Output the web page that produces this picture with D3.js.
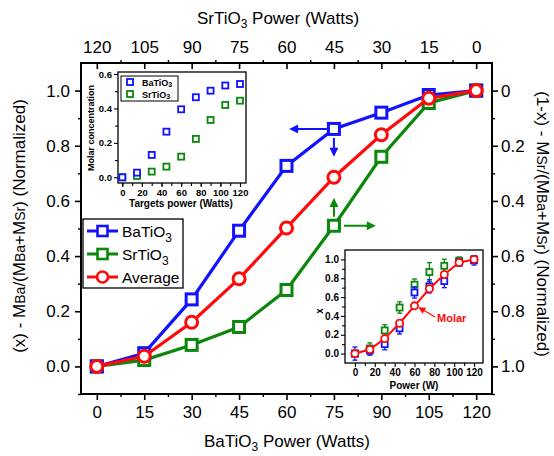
<!DOCTYPE html>
<html>
<head>
<meta charset="utf-8">
<script src="https://cdn.jsdelivr.net/npm/d3@7"></script>
<style>
  html, body { margin: 0; padding: 0; background: #fff; }
  svg { display: block; font-family: "Liberation Sans", Arial, sans-serif; }
</style>
</head>
<body>
<svg id="chart" width="554" height="456"></svg>
<script>
// Sputtering power steps (W)
const power = [0, 15, 30, 45, 60, 75, 90, 105, 120];

// Normalized composition vs. BaTiO3 target power
const baNorm = [0.0, 0.048, 0.243, 0.492, 0.727, 0.861, 0.920, 0.984, 1.0];
const srNorm = [0.0, 0.023, 0.078, 0.143, 0.277, 0.510, 0.760, 0.955, 1.0];
const avgNorm = [0.0, 0.037, 0.160, 0.318, 0.502, 0.686, 0.840, 0.972, 1.0];

// Tick values
const bottomTicks = [0, 15, 30, 45, 60, 75, 90, 105, 120];
const topTicks = [120, 105, 90, 75, 60, 45, 30, 15, 0];
const leftTicks = [0.0, 0.2, 0.4, 0.6, 0.8, 1.0];
const rightTicks = [0, 0.2, 0.4, 0.6, 0.8, 1.0];

// Inset: molar concentration vs. target power
const molarBa = [0.0, 0.027, 0.13, 0.265, 0.395, 0.465, 0.503, 0.533, 0.542];
const molarSr = [0.0, 0.008, 0.033, 0.062, 0.12, 0.223, 0.333, 0.42, 0.445];
const insetAYTicks = [0.0, 0.2, 0.4, 0.6];
const insetXTicks = [0, 20, 40, 60, 80, 100, 120];

// Inset: x from each method with uncertainties, and molar average
const xBa = [0.0, 0.033, 0.10, 0.268, 0.649, 0.714, 0.77, 0.967, 0.99];
const xBaErr = [0.07, 0.05, 0.06, 0.06, 0.06, 0.07, 0.07, 0.04, 0.05];
const xSr = [0.0, 0.054, 0.246, 0.489, 0.732, 0.866, 0.932, 0.986, 1.0];
const xSrErr = [0.03, 0.06, 0.06, 0.06, 0.06, 0.10, 0.07, 0.04, 0.04];
const xMolar = [0.0, 0.043, 0.159, 0.322, 0.507, 0.688, 0.84, 0.967, 1.0];
const insetBYTicks = [0.0, 0.2, 0.4, 0.6, 0.8, 1.0];

const BLUE = "#1212ff", GREEN = "#0b870b", RED = "#ff0a0a";

const svg = d3.select("#chart");
const defs = svg.append("defs");
function marker(id, color, w, h) {
  defs.append("marker").attr("id", id).attr("viewBox", "0 0 10 10")
    .attr("refX", 8).attr("refY", 5).attr("markerWidth", w).attr("markerHeight", h)
    .attr("markerUnits", "userSpaceOnUse").attr("orient", "auto")
    .append("path").attr("d", "M0,0 L10,5 L0,10 Z").attr("fill", color);
}
marker("arB", BLUE, 12, 9);
marker("arG", GREEN, 12, 9);
marker("arR", RED, 9, 7);

// ---------- main panel ----------
const L = 81, R = 492, T = 63, B = 394;
const x = d3.scaleLinear().domain([-5, 125]).range([L, R]);
const y = d3.scaleLinear().domain([-0.1, 1.1]).range([B, T]);
const xTop = d3.scaleLinear().domain([125, -5]).range([L, R]);
const yRight = d3.scaleLinear().domain([1.1, -0.1]).range([B, T]);

function styleAxis(g, fs) {
  g.select(".domain").remove();
  g.selectAll("line").attr("stroke", "#000").attr("stroke-width", 1.6);
  g.selectAll("text").attr("font-size", fs).attr("fill", "#000");
}

// minor ticks
function minor(axisFn, scale, vals, size, transform) {
  svg.append("g").attr("transform", transform)
    .call(axisFn(scale).tickValues(vals).tickSize(size).tickFormat(""))
    .call(g => { g.select(".domain").remove(); g.selectAll("line").attr("stroke", "#000").attr("stroke-width", 1.4); });
}
const minorX = d3.range(0, 121, 7.5).filter(v => v % 15 !== 0);
const minorY = [-0.1, 0.1, 0.3, 0.5, 0.7, 0.9];
minor(d3.axisBottom, x, minorX, 3, `translate(0,${B})`);
minor(d3.axisBottom, xTop, minorX, -3, `translate(0,${T})`);
minor(d3.axisLeft, y, minorY, 3, `translate(${L},0)`);
minor(d3.axisRight, yRight, [0.1, 0.3, 0.5, 0.7, 0.9, 1.1], 3, `translate(${R},0)`);

svg.append("g").attr("transform", `translate(0,${B})`)
  .call(d3.axisBottom(x).tickValues(bottomTicks).tickSize(6).tickPadding(6).tickFormat(d3.format("d")))
  .call(g => styleAxis(g, 17));
svg.append("g").attr("transform", `translate(0,${T})`)
  .call(d3.axisTop(xTop).tickValues(topTicks).tickSize(-6).tickPadding(10).tickFormat(d3.format("d")))
  .call(g => styleAxis(g, 17));
svg.append("g").attr("transform", `translate(${L},0)`)
  .call(d3.axisLeft(y).tickValues(leftTicks).tickSize(6).tickPadding(5).tickFormat(d3.format(".1f")))
  .call(g => styleAxis(g, 17));
svg.append("g").attr("transform", `translate(${R},0)`)
  .call(d3.axisRight(yRight).tickValues(rightTicks).tickSize(6).tickPadding(3).tickFormat(d => d === 0 ? "0" : d3.format(".1f")(d)))
  .call(g => styleAxis(g, 17));

svg.append("rect").attr("x", L).attr("y", T).attr("width", R - L).attr("height", B - T)
  .attr("fill", "none").attr("stroke", "#000").attr("stroke-width", 2);

// axis titles
function sub(sel, parts) {
  parts.forEach(p => {
    const t = sel.append("tspan").text(p.t);
    if (p.fs) t.attr("font-size", p.fs);
    if (p.dy) t.attr("dy", p.dy);
  });
}
const bt = svg.append("text").attr("x", 287).attr("y", 447).attr("text-anchor", "middle").attr("font-size", 17);
sub(bt, [{ t: "BaTiO" }, { t: "3", fs: 12, dy: 4 }, { t: " Power (Watts)", dy: -4 }]);
const tt = svg.append("text").attr("x", 278).attr("y", 24).attr("text-anchor", "middle").attr("font-size", 17);
sub(tt, [{ t: "SrTiO" }, { t: "3", fs: 12, dy: 4 }, { t: " Power (Watts)", dy: -4 }]);

const lt = svg.append("text").attr("transform", "translate(25,226) rotate(-90)")
  .attr("text-anchor", "middle").attr("font-size", 17);
sub(lt, [{ t: "(x) - M" }, { t: "Ba", fs: 14 }, { t: "/(M" }, { t: "Ba", fs: 14 }, { t: "+M" }, { t: "Sr", fs: 14 }, { t: ") (Normalized)" }]);
const rt = svg.append("text").attr("transform", "translate(537,224) rotate(90)")
  .attr("text-anchor", "middle").attr("font-size", 17);
sub(rt, [{ t: "(1-x) - M" }, { t: "Sr", fs: 14 }, { t: "/(M" }, { t: "Ba", fs: 14 }, { t: "+M" }, { t: "Sr", fs: 14 }, { t: ") (Normalized)" }]);

// series
const line = d3.line().x((d, i) => x(power[i])).y(d => y(d));
function series(vals, color, shape) {
  svg.append("path").datum(vals).attr("d", line).attr("fill", "none")
    .attr("stroke", color).attr("stroke-width", 3.2);
  const g = svg.append("g");
  if (shape === "sq") {
    g.selectAll("rect").data(vals).join("rect")
      .attr("x", (d, i) => x(power[i]) - 5.5).attr("y", d => y(d) - 5.5)
      .attr("width", 11).attr("height", 11)
      .attr("fill", "#fff").attr("stroke", color).attr("stroke-width", 3);
  } else {
    g.selectAll("circle").data(vals).join("circle")
      .attr("cx", (d, i) => x(power[i])).attr("cy", d => y(d)).attr("r", 6)
      .attr("fill", "#fff").attr("stroke", color).attr("stroke-width", 3);
  }
}
series(srNorm, GREEN, "sq");
series(baNorm, BLUE, "sq");
series(avgNorm, RED, "ci");

// axis pointers
function arrow(x1, y1, x2, y2, color, id) {
  svg.append("line").attr("x1", x1).attr("y1", y1).attr("x2", x2).attr("y2", y2)
    .attr("stroke", color).attr("stroke-width", 2).attr("marker-end", `url(#${id})`);
}
arrow(x(75) - 7, y(baNorm[5]), x(75) - 43, y(baNorm[5]), BLUE, "arB");
arrow(x(75), y(baNorm[5]) + 9, x(75), y(baNorm[5]) + 26, BLUE, "arB");
arrow(x(75), y(srNorm[5]) - 9, x(75), y(srNorm[5]) - 26, GREEN, "arG");
arrow(x(75) + 10, y(srNorm[5]), x(75) + 40, y(srNorm[5]), GREEN, "arG");

// legend
const lg = svg.append("g");
lg.append("rect").attr("x", 83).attr("y", 219).attr("width", 100).attr("height", 69)
  .attr("fill", "#fff").attr("stroke", "#000").attr("stroke-width", 1.3);
const legItems = [
  { name: "BaTiO", s: "3", color: BLUE, shape: "sq", yy: 231 },
  { name: "SrTiO", s: "3", color: GREEN, shape: "sq", yy: 254 },
  { name: "Average", s: "", color: RED, shape: "ci", yy: 277 }
];
legItems.forEach(d => {
  lg.append("line").attr("x1", 87).attr("x2", 118).attr("y1", d.yy).attr("y2", d.yy)
    .attr("stroke", d.color).attr("stroke-width", 3);
  if (d.shape === "sq") {
    lg.append("rect").attr("x", 97.5).attr("y", d.yy - 5).attr("width", 10).attr("height", 10)
      .attr("fill", "#fff").attr("stroke", d.color).attr("stroke-width", 2.6);
  } else {
    lg.append("circle").attr("cx", 102.5).attr("cy", d.yy).attr("r", 5.5)
      .attr("fill", "#fff").attr("stroke", d.color).attr("stroke-width", 2.6);
  }
  const t = lg.append("text").attr("x", 122).attr("y", d.yy + 6).attr("font-size", 15.5);
  sub(t, [{ t: d.name }].concat(d.s ? [{ t: d.s, fs: 12, dy: 5 }] : []));
});

// ---------- inset A: molar concentration ----------
const aL = 118, aR = 246, aT = 72, aB = 183;
const ax = d3.scaleLinear().domain([0, 120]).range([122.3, 240]);
const ay = d3.scaleLinear().domain([0, 0.6]).range([177.3, 74]);
const ia = svg.append("g");
ia.append("rect").attr("x", aL).attr("y", aT).attr("width", aR - aL).attr("height", aB - aT)
  .attr("fill", "#fff").attr("stroke", "#000").attr("stroke-width", 1.3);
ia.append("g").attr("transform", `translate(0,${aB})`)
  .call(d3.axisBottom(ax).tickValues(d3.range(0, 121, 10)).tickSize(3).tickFormat(""))
  .call(g => styleAxis(g, 9));
ia.append("g").attr("transform", `translate(0,${aB})`)
  .call(d3.axisBottom(ax).tickValues(insetXTicks).tickSize(4).tickPadding(2).tickFormat(d3.format("d")))
  .call(g => { styleAxis(g, 9.5); g.selectAll("text").attr("font-weight", "bold"); });
ia.append("g").attr("transform", `translate(${aL},0)`)
  .call(d3.axisLeft(ay).tickValues([0.1, 0.3, 0.5]).tickSize(3).tickFormat(""))
  .call(g => styleAxis(g, 9));
ia.append("g").attr("transform", `translate(${aL},0)`)
  .call(d3.axisLeft(ay).tickValues(insetAYTicks).tickSize(4).tickPadding(2).tickFormat(d3.format(".1f")))
  .call(g => { styleAxis(g, 9.5); g.selectAll("text").attr("font-weight", "bold"); });
ia.selectAll("g line").attr("stroke-width", 1.1);
ia.append("text").attr("x", 181).attr("y", 207).attr("text-anchor", "middle")
  .attr("font-size", 10).attr("font-weight", "bold").text("Targets power (Watts)");
ia.append("text").attr("transform", "translate(94,128) rotate(-90)").attr("text-anchor", "middle")
  .attr("font-size", 9).attr("font-weight", "bold").text("Molar concentration");
function openSq(g, xs, ys, vals, color, s, sw) {
  g.append("g").selectAll("rect").data(vals).join("rect")
    .attr("x", (d, i) => xs(power[i]) - s / 2).attr("y", d => ys(d) - s / 2)
    .attr("width", s).attr("height", s)
    .attr("fill", "#fff").attr("stroke", color).attr("stroke-width", sw);
}
openSq(ia, ax, ay, molarSr, GREEN, 6, 1.8);
openSq(ia, ax, ay, molarBa, BLUE, 6, 1.8);
ia.append("rect").attr("x", 121).attr("y", 76).attr("width", 57).attr("height", 25)
  .attr("fill", "#fff").attr("stroke", "#000").attr("stroke-width", 1);
[{ n: "BaTiO", c: BLUE, yy: 82 }, { n: "SrTiO", c: GREEN, yy: 94 }].forEach(d => {
  ia.append("rect").attr("x", 127).attr("y", d.yy - 3).attr("width", 6).attr("height", 6)
    .attr("fill", "#fff").attr("stroke", d.c).attr("stroke-width", 1.8);
  const t = ia.append("text").attr("x", 142).attr("y", d.yy + 3.5).attr("font-size", 9).attr("font-weight", "bold");
  sub(t, [{ t: d.n }, { t: "3", fs: 7, dy: 1 }]);
});

// ---------- inset B: x with error bars ----------
const bL = 345, bR = 483, bT = 250, bB = 363;
const bx = d3.scaleLinear().domain([-10, 129]).range([bL, bR]);
const by = d3.scaleLinear().domain([-0.1, 1.1]).range([bB, bT]);
const ib = svg.append("g");
ib.append("rect").attr("x", bL).attr("y", bT).attr("width", bR - bL).attr("height", bB - bT)
  .attr("fill", "#fff").attr("stroke", "#000").attr("stroke-width", 1.3);
ib.append("g").attr("transform", `translate(0,${bB})`)
  .call(d3.axisBottom(bx).tickValues(d3.range(10, 121, 20)).tickSize(3).tickFormat(""))
  .call(g => styleAxis(g, 9));
ib.append("g").attr("transform", `translate(0,${bB})`)
  .call(d3.axisBottom(bx).tickValues(insetXTicks).tickSize(4).tickPadding(2).tickFormat(d3.format("d")))
  .call(g => { styleAxis(g, 10); g.selectAll("text").attr("font-weight", "bold"); });
ib.append("g").attr("transform", `translate(${bL},0)`)
  .call(d3.axisLeft(by).tickValues([0.1, 0.3, 0.5, 0.7, 0.9]).tickSize(3).tickFormat(""))
  .call(g => styleAxis(g, 9));
ib.append("g").attr("transform", `translate(${bL},0)`)
  .call(d3.axisLeft(by).tickValues(insetBYTicks).tickSize(4).tickPadding(2).tickFormat(d3.format(".1f")))
  .call(g => { styleAxis(g, 10); g.selectAll("text").attr("font-weight", "bold"); });
ib.selectAll("g line").attr("stroke-width", 1.1);
ib.append("text").attr("x", 414).attr("y", 389).attr("text-anchor", "middle")
  .attr("font-size", 10).attr("font-weight", "bold").text("Power (W)");
ib.append("text").attr("transform", "translate(323,311) rotate(-90)").attr("text-anchor", "middle")
  .attr("font-size", 10).attr("font-weight", "bold").text("x");
function errSeries(vals, errs, color) {
  const g = ib.append("g");
  vals.forEach((v, i) => {
    const cx = bx(power[i]);
    g.append("line").attr("x1", cx).attr("x2", cx).attr("y1", by(v - errs[i])).attr("y2", by(v + errs[i]))
      .attr("stroke", color).attr("stroke-width", 1.3);
    [v - errs[i], v + errs[i]].forEach(e => g.append("line").attr("x1", cx - 2.5).attr("x2", cx + 2.5)
      .attr("y1", by(e)).attr("y2", by(e)).attr("stroke", color).attr("stroke-width", 1.3));
  });
  openSq(g, bx, by, vals, color, 6, 1.8);
}
errSeries(xSr, xSrErr, GREEN);
errSeries(xBa, xBaErr, BLUE);
ib.append("path").datum(xMolar).attr("fill", "none").attr("stroke", RED).attr("stroke-width", 2)
  .attr("d", d3.line().x((d, i) => bx(power[i])).y(d => by(d)));
ib.append("g").selectAll("circle").data(xMolar).join("circle")
  .attr("cx", (d, i) => bx(power[i])).attr("cy", d => by(d)).attr("r", 3.6)
  .attr("fill", "#fff").attr("stroke", RED).attr("stroke-width", 1.8);
ib.append("line").attr("x1", 435).attr("y1", 317).attr("x2", bx(60) + 5).attr("y2", by(xMolar[4]) + 2)
  .attr("stroke", RED).attr("stroke-width", 1.2).attr("marker-end", "url(#arR)");
ib.append("text").attr("x", 437).attr("y", 322).attr("font-size", 11).attr("font-weight", "bold")
  .attr("fill", RED).text("Molar");
</script>
</body>
</html>
